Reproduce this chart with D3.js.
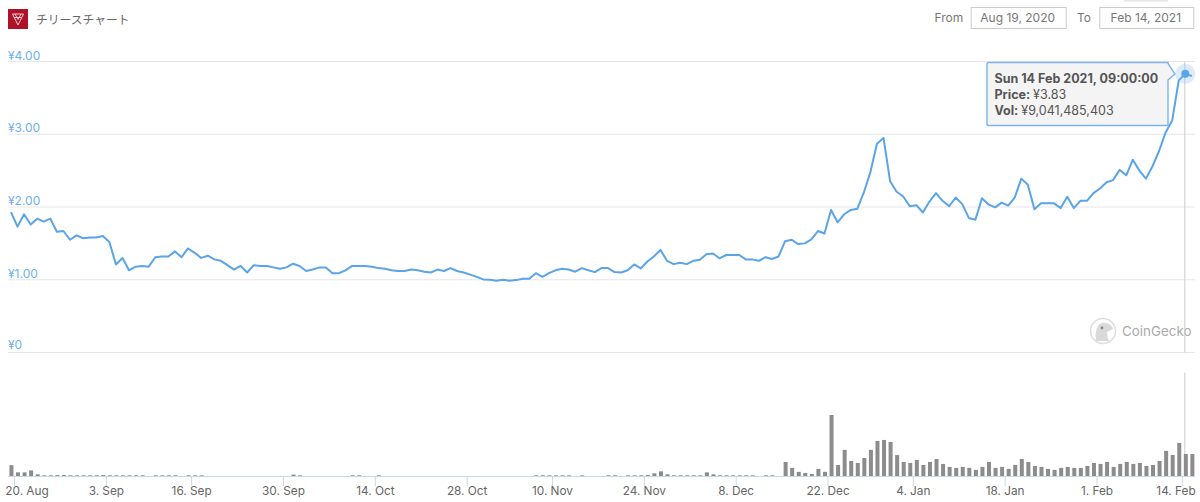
<!DOCTYPE html>
<html><head><meta charset="utf-8">
<script src="https://cdn.jsdelivr.net/npm/d3@7"></script>
<style>html,body{margin:0;padding:0;background:#fff;overflow:hidden}svg{display:block}text{font-family:Inter,"Noto Sans",sans-serif}</style>
</head><body><svg id="c" width="1200" height="502"></svg>
<script>
const startDate = "2020-08-19";
const prices = [1.93,1.73,1.90,1.76,1.84,1.80,1.84,1.66,1.67,1.55,1.61,1.57,1.58,1.58,1.60,1.52,1.21,1.30,1.13,1.18,
1.19,1.18,1.31,1.32,1.32,1.39,1.31,1.43,1.37,1.30,1.33,1.28,1.26,1.20,1.14,1.19,1.10,1.20,1.19,1.19,
1.17,1.15,1.17,1.22,1.19,1.12,1.14,1.17,1.17,1.09,1.09,1.13,1.19,1.19,1.19,1.18,1.16,1.15,1.13,1.12,
1.12,1.14,1.13,1.11,1.10,1.14,1.12,1.16,1.12,1.10,1.07,1.04,1.005,1.00,0.985,1.00,0.985,0.995,1.015,1.015,
1.09,1.04,1.09,1.13,1.15,1.14,1.11,1.16,1.13,1.105,1.16,1.16,1.105,1.10,1.13,1.21,1.155,1.25,1.32,1.41,
1.26,1.215,1.235,1.215,1.26,1.275,1.35,1.36,1.295,1.34,1.34,1.34,1.28,1.28,1.26,1.31,1.285,1.32,1.53,1.55,
1.49,1.50,1.555,1.67,1.635,1.96,1.79,1.90,1.96,1.975,2.20,2.48,2.87,2.95,2.355,2.21,2.145,2.01,2.025,1.925,
2.075,2.19,2.085,2.01,2.13,2.04,1.85,1.825,2.12,2.035,1.995,2.06,2.02,2.13,2.39,2.305,1.97,2.05,2.05,2.05,
1.985,2.14,1.985,2.085,2.085,2.19,2.255,2.34,2.37,2.51,2.435,2.65,2.50,2.39,2.56,2.77,3.025,3.19,3.74,3.83,3.80];
const volumes = [4.5,1.6,1.6,2.4,0.8,0.4,0.4,0.5,0.5,0.4,0.4,0.4,0.4,0.4,0.5,0.4,0.4,0.4,0.4,0.4,0.4,0,0.4,0.4,0.4,0.4,0,0.4,0.4,0.4,
0,0,0,0,0,0,0,0,0,0,0,0,0,0.7,0.4,0,0,0,0,0,0,0,0.4,0.4,0,0,0.4,0,0,0,
0,0,0,0,0,0,0,0,0,0,0,0,0,0,0,0,0,0,0,0,0.4,0.4,0.4,0.4,0.4,0.4,0,0.4,0,0,
0,0.4,0.4,0,0.4,0.4,0.4,0.5,1.2,2.0,0.8,0.4,0.4,0.4,0.4,0.4,1.6,0.8,0.4,0.4,0.4,0.4,0.4,0.4,0,0.4,0.4,0,
5.8,3.4,1.8,1.35,0.95,3.0,1.8,24.8,4.6,10.7,6.2,5.4,7.4,10.7,14.3,14.7,13.9,8.6,5.8,5.4,6.6,4.6,5.8,7.0,5.0,3.8,3.4,3.8,3.4,2.6,
3.8,5.8,3.4,3.8,3.0,4.6,7.0,5.8,4.2,3.8,3.0,2.6,3.4,3.8,3.4,3.4,4.2,5.4,5.0,5.8,3.8,5.0,5.8,5.0,5.4,4.2,4.6,6.2,10.3,8.6,13.5,9.04,9.0];
const yTicks = [0,1,2,3,4];
const yTickLabels = ["¥0","¥1.00","¥2.00","¥3.00","¥4.00"];
const xTickDates = ["2020-08-20","2020-09-03","2020-09-16","2020-09-30","2020-10-14","2020-10-28","2020-11-10","2020-11-24","2020-12-08","2020-12-22","2021-01-04","2021-01-18","2021-02-01","2021-02-14"];
const xTickLabels = ["20. Aug","3. Sep","16. Sep","30. Sep","14. Oct","28. Oct","10. Nov","24. Nov","8. Dec","22. Dec","4. Jan","18. Jan","1. Feb","14. Feb"];
const titleText = "チリースチャート";
const tooltipLines = [["Sun 14 Feb 2021, 09:00:00",""],["Price: ","¥3.83"],["Vol: ","¥9,041,485,403"]];
const hoverIndex = 179;

const svg = d3.select("#c");
const day = 864e5;
const t0 = Date.parse(startDate);
const dates = prices.map((_,i)=>new Date(t0+i*day+0.46*day));
const x = d3.scaleUtc().domain([new Date("2020-08-20"),new Date("2021-02-14")]).range([14.5,1182.3]);
const y = d3.scaleLinear().domain([0,4]).range([352.5,61.5]);
const yVol = d3.scaleLinear().domain([0,24.8]).range([476.3,415]);
const C_BLUE="#6db0ee", C_LINE="#5aa4e8", C_TIP="#7cb5ec", C_TXT="#666";

// header
svg.append("rect").attr("x",8).attr("y",9).attr("width",20).attr("height",20).attr("fill","#ae1228");
svg.append("path").attr("d","M12.5 14L23.5 14L18 25Z M15 14L18 19.5L21 14 M14.5 17.5H21.5").attr("fill","none").attr("stroke","#f0c9cf").attr("stroke-width",1);
svg.append("text").attr("x",36).attr("y",24).attr("font-size",11.8).attr("fill",C_TXT).style("font-family",'"Noto Sans CJK JP"').text(titleText);
svg.append("rect").attr("x",1124).attr("y",0).attr("width",44).attr("height",1.5).attr("fill","#e6e6e6");
const hdr=(t,xx)=>svg.append("text").attr("x",xx).attr("y",22).attr("font-size",12).attr("fill","#777").text(t);
hdr("From",934.5); hdr("To",1077);
[[970.7,95,"Aug 19, 2020"],[1099.3,94,"Feb 14, 2021"]].forEach(([a,w,t])=>{
  svg.append("rect").attr("x",a+.5).attr("y",7.5).attr("width",w).attr("height",21).attr("fill","#fff").attr("stroke","#ccc");
  svg.append("text").attr("x",a+w/2-.5).attr("y",22).attr("text-anchor","middle").attr("font-size",12).attr("fill","#777").text(t);
});

// grid + y labels
const yg = svg.append("g");
yTicks.forEach((v,i)=>{
  yg.append("line").attr("x1",8).attr("x2",1195).attr("y1",y(v)).attr("y2",y(v)).attr("stroke","#e6e6e6");
  yg.append("text").attr("x",8).attr("y",y(v)-(v===0?3.5:2)).attr("font-size",12).attr("fill",C_BLUE).text(yTickLabels[i]);
});

// watermark
const wm = svg.append("g");
wm.append("circle").attr("cx",1103).attr("cy",331).attr("r",12.5).attr("fill","#fff").attr("stroke","#ddd").attr("stroke-width",1.5);
wm.append("path").attr("d","M1096 341C1095 333 1096 325 1102 323C1107 322 1113 326 1113 329L1107 332C1107 336 1108 339 1109 341Z").attr("fill","#d9d9d9");
wm.append("circle").attr("cx",1102).attr("cy",328).attr("r",1.4).attr("fill","#888");
wm.append("text").attr("x",1122).attr("y",336).attr("font-size",13.4).attr("fill","#aaa").text("CoinGecko");

// crosshair
const hx = x(dates[hoverIndex]);
svg.append("line").attr("x1",hx-.5).attr("x2",hx-.5).attr("y1",61.5).attr("y2",352.5).attr("stroke","#ccc");
svg.append("line").attr("x1",hx-.5).attr("x2",hx-.5).attr("y1",372.5).attr("y2",476).attr("stroke","#ccc");

// line
svg.append("path").datum(prices).attr("fill","none").attr("stroke",C_LINE).attr("stroke-width",2).attr("stroke-linejoin","round")
  .attr("d",d3.line().x((d,i)=>x(dates[i])).y(d=>y(d)));
svg.append("circle").attr("cx",hx).attr("cy",y(prices[hoverIndex])).attr("r",10).attr("fill",C_TIP).attr("opacity",.25);
svg.append("circle").attr("cx",hx).attr("cy",y(prices[hoverIndex])).attr("r",4).attr("fill",C_LINE);

// volume bars
svg.append("g").selectAll("rect").data(volumes).join("rect")
  .attr("x",(d,i)=>x(dates[i])-1.5).attr("width",4)
  .attr("y",d=>yVol(d)).attr("height",d=>yVol(0)-yVol(d)).attr("fill","#8c8c8c");

// x axis
const xa = svg.append("g");
xa.append("line").attr("x1",8).attr("x2",1195).attr("y1",476.5).attr("y2",476.5).attr("stroke","#ccd6eb");
xTickDates.forEach((s,i)=>{
  const tx = x(new Date(s));
  xa.append("line").attr("x1",tx).attr("x2",tx).attr("y1",476).attr("y2",486).attr("stroke","#ccd6eb");
  const lx = i===0 ? 27 : i===xTickDates.length-1 ? 1176 : tx;
  xa.append("text").attr("x",lx).attr("y",495).attr("text-anchor","middle").attr("font-size",11.8).attr("fill",C_TXT).text(xTickLabels[i]);
});

// tooltip
const tt = svg.append("g");
tt.append("path").attr("d","M988.5 62.5H1168V63.5L1175 74L1168 80V125.5H988.5Q987 125.5 987 124V64Q987 62.5 988.5 62.5Z")
  .attr("fill","#f4f4f4").attr("stroke",C_TIP).attr("stroke-width",1.4);
tooltipLines.forEach((l,i)=>{
  const t = tt.append("text").attr("x",994.5).attr("y",[83,99,115][i]).attr("font-size",12.5).attr("fill","#555");
  t.append("tspan").attr("font-weight",700).text(l[0]);
  if(l[1]) t.append("tspan").text(l[1]);
});
</script></body></html>
